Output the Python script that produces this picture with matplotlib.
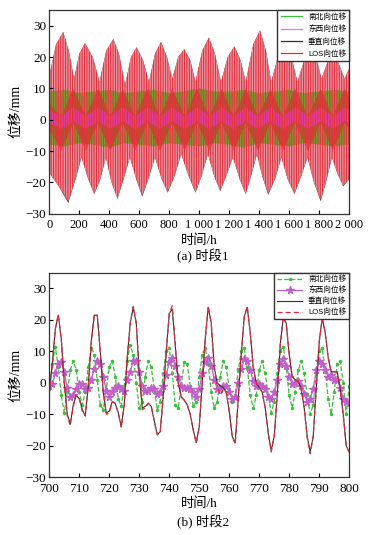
import numpy as np
import matplotlib.pyplot as plt
from matplotlib.lines import Line2D

plt.rcParams['font.family'] = ['Liberation Serif', 'Noto Sans CJK SC']
plt.rcParams['hatch.linewidth'] = 0.8

# ---- (a) 时段1: envelopes ----
los_up_t = [0, 45, 93, 130, 165, 200, 238, 290, 335, 380, 427, 465, 505, 545, 582, 625, 665,
            705, 745, 785, 820, 860, 900, 940, 975, 1020, 1065, 1105, 1145, 1190, 1235, 1275,
            1310, 1360, 1405, 1445, 1480, 1530, 1580, 1620, 1655, 1700, 1750, 1785, 1815,
            1860, 1900, 1970, 2000]
los_up_v = [14, 24, 28, 22, 13, 21, 24.4, 20, 12, 22, 25.7, 21, 11, 20, 23.1, 19, 12,
            21, 24.8, 20, 13, 20, 22.5, 19, 12, 22, 26.2, 21, 12, 20, 23.4, 19,
            12, 24, 28.5, 22, 12, 21, 24, 19, 12, 19, 22.5, 19, 13,
            19, 21.5, 13, 16.4]
los_lo_t = [0, 60, 127, 175, 215, 260, 300, 340, 378, 415, 455, 495, 538, 580, 620, 660,
            705, 750, 790, 835, 880, 930, 975, 1015, 1058, 1100, 1140, 1180, 1225, 1270,
            1310, 1345, 1385, 1420, 1460, 1505, 1548, 1590, 1635, 1680, 1722, 1765, 1810,
            1850, 1885, 1920, 1960, 2000]
los_lo_v = [-17, -21, -26, -19, -12, -19, -23.5, -19, -12, -20, -25, -19, -12, -19, -24, -19,
            -12, -19, -23, -18, -11, -18, -23, -18, -11, -18, -22.5, -18, -12, -19,
            -23.5, -18, -11, -18, -23.5, -19, -12, -19, -23.5, -18, -12, -20, -25.5,
            -19, -12, -17, -21, -19]
vert_lo_v = [-17, -21, -26.6, -19, -12, -19, -23.8, -19, -12, -20, -25.3, -19, -12, -19, -24.6, -19,
             -12, -19, -23.3, -18, -11, -18, -23.3, -18, -11, -18, -22.8, -18, -12, -19,
             -23.8, -18, -11, -18, -24, -19, -12, -19, -23.8, -18, -12, -20, -26.1,
             -19, -12, -17, -21.3, -19]

g_t = list(range(0, 2001, 100))
ns_hi = [9, 9.5, 8.5, 9, 9.5, 8.5, 9, 9.5, 8.5, 9, 10, 9, 9, 9.5, 8.5, 9, 9.5, 8.5, 9, 9.5, 9]
ns_lo = [-8, -8.5, -7.5, -8, -9, -7.5, -8, -8.5, -7.5, -8, -8.5, -7.5, -8, -9, -7.5, -8,
         -8.5, -7.5, -8, -8.5, -8]

c_t = [0, 80, 160, 243, 325, 408, 490, 572, 655, 738, 820, 903, 985, 1068, 1150, 1230,
       1310, 1392, 1475, 1558, 1640, 1725, 1810, 1890, 1970, 2000]
core_hi = [5, 1, 10, 1, 10, 1, 10, 1, 10, 1, 10, 1, 10, 1, 10, 1, 10, 1, 10, 1, 10, 1, 10, 1, 10, 7]
core_lo = [-3, -10, -1, -10, -1, -10, -1, -10, -1, -10, -1, -10, -1, -10, -1, -10, -1, -10,
           -1, -10, -1, -10, -1, -10, -1, -3]
ew_hi = [3, 1, 4, 1, 4, 1, 4, 1, 4, 1, 4, 1, 4, 1, 4, 1, 4, 1, 4, 1, 4, 1, 4, 1, 4, 3]
ew_lo = [-1, -3, -0.5, -3, -0.5, -3, -0.5, -3, -0.5, -3, -0.5, -3, -0.5, -3, -0.5, -3,
         -0.5, -3, -0.5, -3, -0.5, -3, -0.5, -3, -0.5, -1]

x1_ticks = list(range(0, 2001, 200))
x1_labels = ['0', '200', '400', '600', '800', '1 000', '1 200', '1 400', '1 600', '1 800', '2 000']

# ---- (b) 时段2: hourly values 700-800 h ----
t2 = np.arange(700, 801)
ns = [-2, 6, 11.5, 5, -4, -9.5, -3, 4, 7, 4,
      -3, -7, -3, 5, 11, 9, 1, -7, -8.5, -2,
      5, 7, 2, -5, -7.5, -1, 7, 12, 9, 0,
      -8, -6, 2, 7, 5, -2, -8.5, -6, 3, 10,
      11, 3, -7, -8, -1, 6.5, 6, -1, -7.5, -6,
      2, 9, 11, 6, -3, -8, -6, 2, 7, 5,
      -2, -6, -4, 4, 10, 11, 5, -4, -8, -4,
      4, 7, 3, -4, -9.5, -6, 3, 10, 11.5, 5,
      -4, -8, -3, 4, 7, 3, -4, -10, -7, 3,
      10, 11, 4, -5, -10, -3, 6, 7, 0, -10, -1]
ew = [-1, -0.5, 3, 6, 6.5, 3.5, -1.5, -4.5, -4, -2,
      -0.5, -0.5, -2, -1.5, 1, 4.5, 7, 6, 2, -2.5,
      -4.5, -3, -1.5, -1, -2, -2.5, 1, 3.5, 7, 7,
      3.5, -1, -2.5, -2.5, -1.5, -2, -3.5, -3, -1, 2.5,
      6.5, 8, 5.5, 2, -1, -1.5, -1.5, -2, -3, -4.5,
      -2, 3, 6.5, 8, 5.5, 1, -2, -2, -1, -1,
      -3, -5, -4.5, 0, 4.5, 7.5, 7, 4, 0.5, -1,
      -0.5, -1, -2, -4.5, -5, -3, 1, 6, 7.5, 5.5,
      2, -0.5, 0, 0.5, -1, -3.5, -6, -5, -2, 4,
      7, 6, 4, 2, 2.5, 1, 1, -1.5, -5, -6, -6.5]
vert = [-3, 6, 17, 21.5, 14, 0, -10, -13, -7, -4,
        -5, -8.5, -10.5, -1, 13, 21.5, 21.5, 10, -3, -9.5,
        -9, -6, -6.5, -9.5, -14, -7, 8, 19, 24, 19,
        3, -8, -7.5, -6.5, -7.5, -12, -16.5, -15.5, -4, 10,
        22, 23.5, 12, 0, -4.5, -5.5, -7, -10, -15, -19,
        -14, 0, 14, 24, 19, 5, 0, -1, -1.5, -3,
        -9, -17, -19, -5, 9, 21, 24, 16, 5, 0,
        -1.5, -3, -8, -16, -21.5, -17, -4, 12, 20.5, 19,
        9, 2, 1, 0.5, -2, -8, -17, -22, -17, -2,
        13, 20.5, 16, 8, 3.5, 3.5, 3.5, -2, -10, -20, -22]
los = [-3.5, 5.5, 17, 21.8, 14, 0, -10.5, -13.5, -7.5, -4,
       -5, -9, -10.5, -1, 13, 21.5, 21.5, 10, -3, -10,
       -9.5, -6, -6.5, -9.5, -14, -7, 8, 19, 24.3, 19,
       3, -8.5, -8, -6.5, -7.5, -12, -16.5, -15.5, -4, 10,
       22, 24.5, 12, 0, -4.5, -5.5, -7, -10, -15, -19,
       -14, 0, 14, 24.3, 19, 5, -1, -4, -2, -3,
       -9, -17, -19.5, -5, 9, 21, 24.3, 16, 5, 0,
       -1.5, -3, -8, -16, -22, -17, -4, 12, 21, 19,
       9, 2, 1, 0.5, -2, -8, -17.5, -22.5, -17, -2,
       13, 20.5, 16, 8, 3.5, 3.5, 3.5, -2, -10, -20, -22]

labels = ['南北向位移', '东西向位移', '垂直向位移', 'LOS向位移']
c_ns, c_ew, c_v, c_los = '#3cbf3c', '#c060c8', '#303030', '#e8283a'

fig = plt.figure(figsize=(3.88, 5.35), dpi=100)
ax1 = fig.add_axes([0.127, 0.6006, 0.773, 0.3807])
ax2 = fig.add_axes([0.127, 0.1079, 0.773, 0.3824])

# panel (a)
px = np.r_[los_up_t, los_lo_t[::-1]]
ax1.fill(px, np.r_[los_up_v, vert_lo_v[::-1]], facecolor='#404040', lw=0)
ax1.fill(px, np.r_[los_up_v, los_lo_v[::-1]], facecolor='#ec94a0', lw=0)
ax1.fill_between(g_t, ns_lo, ns_hi, facecolor='#7f9a34', lw=0)
ax1.fill_between(c_t, core_lo, core_hi, facecolor=(0.88, 0.12, 0.18, 0.6), lw=0)
ax1.fill_between(c_t, ew_lo, ew_hi, facecolor='#e2409c', lw=0)
ax1.fill(px, np.r_[los_up_v, los_lo_v[::-1]], facecolor='none', edgecolor='#e2323c',
         hatch='|||||||', lw=0)
ax1.set_xlim(0, 2000)
ax1.set_ylim(-30, 35)
ax1.set_xticks(x1_ticks)
ax1.set_xticklabels(x1_labels, fontsize=9)
ax1.set_xlabel('时间/h', fontsize=9.5, labelpad=2)
ax1.set_ylabel('位移/mm', fontsize=10, labelpad=2)
handles = [Line2D([], [], color=c, lw=0.9) for c in (c_ns, '#d080d8', c_v, c_los)]
ax1.legend(handles, labels, loc='upper right', frameon=True, fancybox=False,
           edgecolor='#333333', framealpha=1, borderaxespad=0, handlelength=2.8,
           labelspacing=0.62, borderpad=0.4,
           prop={'family': ['Liberation Sans', 'Noto Sans CJK SC'], 'size': 5.5})

# panel (b)
ax2.plot(t2, ns, color=c_ns, ls='--', marker='.', ms=3, lw=0.9, label=labels[0])
ax2.plot(t2, ew, color=c_ew, ls='-', marker='*', ms=5.5, lw=0.9, label=labels[1])
ax2.plot(t2, vert, color=c_v, ls='-', lw=0.8, label=labels[2])
ax2.plot(t2, los, color=c_los, ls=(0, (4, 2.5)), lw=0.9, label=labels[3])
ax2.set_xlim(700, 800)
ax2.set_ylim(-30, 35)
ax2.set_xticks(range(700, 801, 10))
ax2.set_xlabel('时间/h', fontsize=9.5, labelpad=2)
ax2.set_ylabel('位移/mm', fontsize=10, labelpad=2)
ax2.legend(loc='upper right', frameon=True, fancybox=False, edgecolor='#333333',
           framealpha=1, borderaxespad=0, handlelength=3.2, labelspacing=0.42, borderpad=0.4,
           prop={'family': ['Liberation Sans', 'Noto Sans CJK SC'], 'size': 5.5})

for ax in (ax1, ax2):
    ax.set_yticks(range(-30, 31, 10))
    ax.tick_params(direction='in', length=3, width=0.8)
    ax.tick_params(axis='x', pad=4)
    ax.tick_params(axis='y', pad=2, labelsize=9.5)
ax2.tick_params(axis='x', labelsize=9.5)
for ax in (ax1, ax2):
    for s in ax.spines.values():
        s.set_linewidth(0.9)
        s.set_color('#333333')

fig.text(0.523, 0.522, '(a) 时段1', ha='center', va='center', fontsize=9.5)
fig.text(0.523, 0.024, '(b) 时段2', ha='center', va='center', fontsize=9.5)

fig.savefig('out.png', dpi=100)
